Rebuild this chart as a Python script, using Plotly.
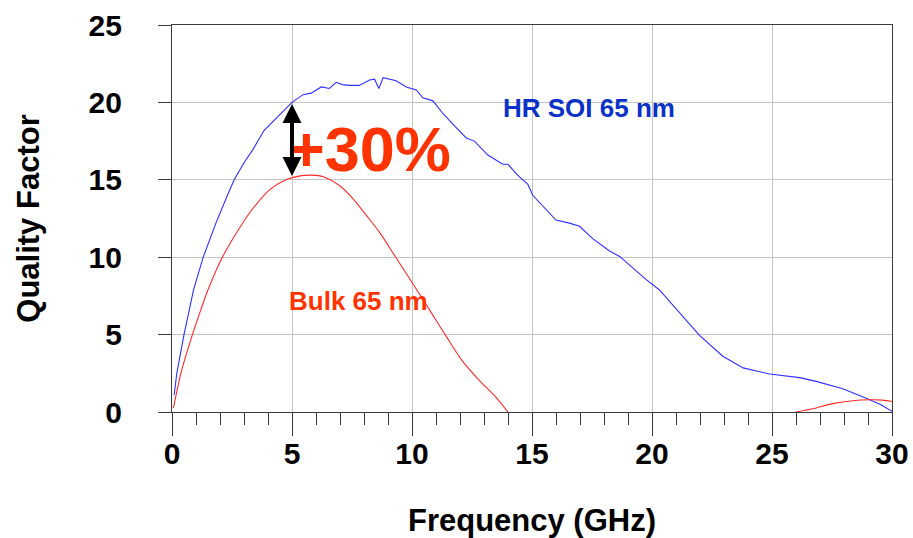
import plotly.graph_objects as go

# Quality factor vs frequency for two 65 nm inductors
freq_soi = [0.09, 0.2, 0.5, 0.9, 1.3, 1.55, 1.83, 2.31, 2.59, 3.0, 3.35, 3.84, 4.4, 5.0, 5.46,
            5.8, 6.22, 6.56, 6.84, 7.1, 7.4, 7.8, 8.23, 8.44, 8.62, 8.8, 9.34, 9.76, 10.18,
            10.45, 10.87, 11.28, 11.7, 12.26, 12.6, 13.16, 13.78, 14.0, 14.4, 14.83, 15.03,
            15.6, 16.0, 16.56, 16.98, 17.53, 18.23, 18.65, 19.2, 19.76, 20.3, 21.28, 21.98,
            22.95, 23.8, 24.9, 26.15, 26.84, 27.95, 28.9, 29.5, 30.0]
q_soi = [1.1, 2.5, 5.0, 7.9, 10.0, 11.1, 12.2, 14.0, 15.0, 16.1, 16.9, 18.2, 19.1, 20.0, 20.5,
         20.6, 21.0, 20.9, 21.3, 21.15, 21.1, 21.1, 21.45, 21.5, 20.9, 21.6, 21.4, 21.0, 20.8,
         20.3, 20.1, 19.3, 18.6, 17.7, 17.5, 16.6, 16.0, 16.0, 15.3, 14.7, 14.0,
         13.1, 12.4, 12.2, 12.0, 11.2, 10.4, 10.05, 9.3, 8.55, 7.9, 6.2, 4.95,
         3.6, 2.85, 2.45, 2.22, 1.98, 1.5, 0.9, 0.5, 0.04]

# Bulk curve: second branch only becomes positive again above 26 GHz
freq_bulk = [0.06, 0.37, 0.85, 1.2, 1.5, 2.1, 2.8, 3.3, 4.1, 4.75, 5.4, 5.8, 6.3, 7.0, 7.5,
             8.1, 8.65, 9.34, 10.03, 10.73, 11.42, 12.12, 12.8, 13.5, 14.0,
             None, 26.0, 26.7, 27.53, 28.36, 29.06, 29.6, 30.0]
q_bulk = [0.26, 2.5, 5.0, 6.6, 7.9, 10.0, 11.85, 13.0, 14.4, 15.0, 15.27, 15.3, 15.2, 14.6, 13.85,
          12.7, 11.6, 9.95, 8.3, 6.6, 4.9, 3.25, 2.05, 0.95, 0.0,
          None, 0.0, 0.21, 0.54, 0.73, 0.79, 0.77, 0.68]

x_ticks = [0, 5, 10, 15, 20, 25, 30]
y_ticks = [0, 5, 10, 15, 20, 25]

# Comparison at 5 GHz
f_cmp = 5.0
q_cmp_soi = 20.0
q_cmp_bulk = 15.25

FONT = "Liberation Sans, Arial, Helvetica, sans-serif"
AX = "#3a3a3a"
GRID = "#c4c4c4"

fig = go.Figure()
fig.add_trace(go.Scatter(x=freq_soi, y=q_soi, mode="lines", name="HR SOI 65 nm",
                         line=dict(color="#2f2fff", width=1.1)))
fig.add_trace(go.Scatter(x=freq_bulk, y=q_bulk, mode="lines", name="Bulk 65 nm",
                         line=dict(color="#ff2a2a", width=1.1, shape="spline", smoothing=0.8),
                         connectgaps=False))

fig.add_annotation(x=13.72, y=19.65, xref="x", yref="y", text="HR SOI 65 nm",
                   showarrow=False, xanchor="left", yanchor="middle",
                   font=dict(family=FONT, size=26, color="#0a32c8", weight="bold"))
fig.add_annotation(x=4.8, y=7.2, xref="x", yref="y", text="Bulk 65 nm",
                   showarrow=False, xanchor="left", yanchor="middle",
                   font=dict(family=FONT, size=26, color="#ff3300", weight="bold"))
fig.add_annotation(x=4.75, y=17.0, xref="x", yref="y", text="+30%",
                   showarrow=False, xanchor="left", yanchor="middle",
                   font=dict(family=FONT, size=63, color="#ff3300", weight="bold"))
# double-headed arrow marking the gain
fig.add_annotation(x=f_cmp, y=q_cmp_bulk, ax=f_cmp, ay=q_cmp_soi, xref="x", yref="y",
                   axref="x", ayref="y", text="", showarrow=True, arrowhead=2,
                   arrowside="end+start", arrowwidth=4, arrowsize=0.95, arrowcolor="black",
                   standoff=0, startstandoff=0)

fig.update_layout(
    width=913, height=538,
    margin=dict(l=172, r=21, t=25, b=126),
    paper_bgcolor="white", plot_bgcolor="white",
    showlegend=False,
    font=dict(family=FONT, color="black"),
    xaxis=dict(
        range=[0, 30], tickvals=x_ticks, ticktext=[str(v) for v in x_ticks],
        automargin=False,
        ticks="outside", ticklen=23, tickwidth=1.3, tickcolor=AX,
        showline=True, linecolor=AX, linewidth=1.3, mirror=True,
        showgrid=True, gridcolor=GRID, gridwidth=1, zeroline=False,
        minor=dict(dtick=1, ticks="outside", ticklen=12, tickwidth=1.3, tickcolor=AX, showgrid=False),
        ticklabelstandoff=-8,
        tickfont=dict(family=FONT, size=30, color="black", weight="bold"),
        title=dict(text="Frequency (GHz)", standoff=48,
                   font=dict(family=FONT, size=31, color="black", weight="bold")),
    ),
    yaxis=dict(
        range=[0, 25], tickvals=y_ticks, ticktext=[str(v) for v in y_ticks],
        automargin=False,
        ticks="outside", ticklen=13, tickwidth=1.3, tickcolor=AX,
        showline=True, linecolor=AX, linewidth=1.3, mirror=True,
        showgrid=True, gridcolor=GRID, gridwidth=1, zeroline=False,
        ticklabelstandoff=30,
        tickfont=dict(family=FONT, size=30, color="black", weight="bold"),
        title=dict(text="Quality Factor", standoff=39,
                   font=dict(family=FONT, size=31, color="black", weight="bold")),
    ),
)

fig.write_html("out.html")
